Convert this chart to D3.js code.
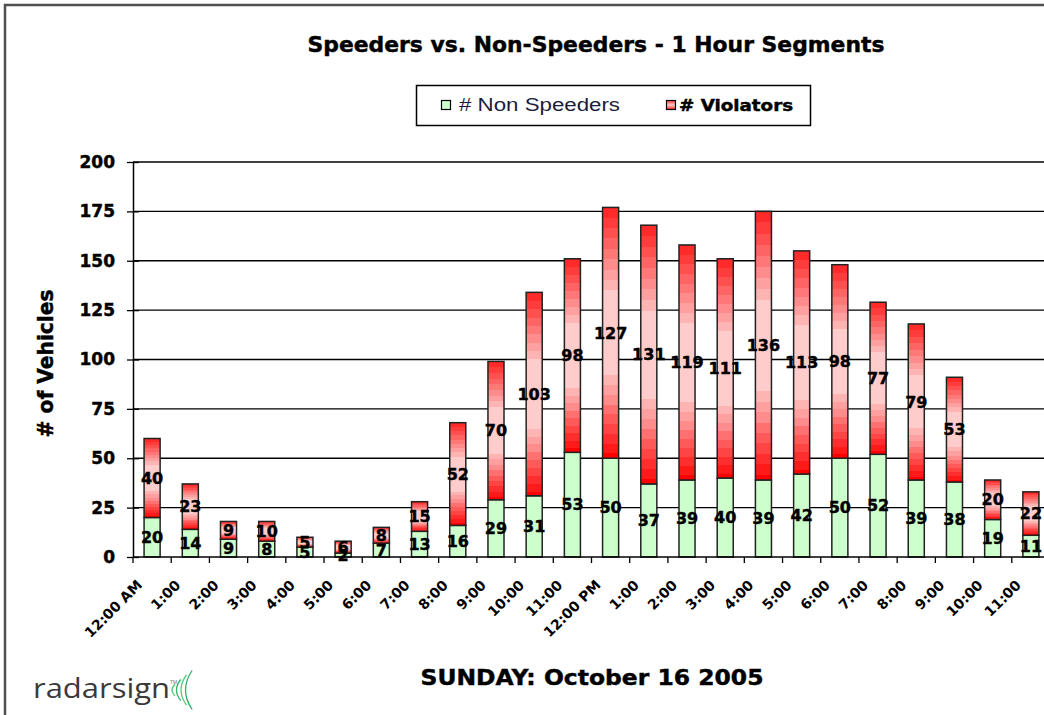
<!DOCTYPE html>
<html>
<head>
<meta charset="utf-8">
<script src="https://cdn.jsdelivr.net/npm/d3@7/dist/d3.min.js"></script>
<style>
  html, body { margin: 0; padding: 0; background: #fff; overflow: hidden; }
  svg { display: block; }
</style>
</head>
<body>
<svg id="chart" width="1044" height="715"></svg>
<script>
// ---- data ----
const hours = ["12:00 AM","1:00","2:00","3:00","4:00","5:00","6:00","7:00","8:00","9:00","10:00","11:00",
               "12:00 PM","1:00","2:00","3:00","4:00","5:00","6:00","7:00","8:00","9:00","10:00","11:00"];
const nonSpeeders = [20,14,9,8,5,2,7,13,16,29,31,53,50,37,39,40,39,42,50,52,39,38,19,11];
const violators   = [40,23,9,10,5,6,8,15,52,70,103,98,127,131,119,111,136,113,98,77,79,53,20,22];
const yTicks = [0,25,50,75,100,125,150,175,200];

const title = "Speeders vs. Non-Speeders - 1 Hour Segments";
const xTitle = "SUNDAY: October 16 2005";
const yTitle = "# of Vehicles";
const seriesNames = ["# Non Speeders", "# Violators"];

// ---- layout ----
const svg = d3.select("#chart");
const plot = { left: 133, right: 1050, top: 162, bottom: 557 };
const BOLD = "'DejaVu Sans', Verdana, sans-serif";
const heavy = sel => sel.attr("stroke","#000").attr("stroke-width",0.45).attr("paint-order","stroke");

// frame
svg.append("rect").attr("x",5).attr("y",5).attr("width",1200).attr("height",900)
  .attr("fill","#fff").attr("stroke","#505050").attr("stroke-width",2.5);

// gradient for violators (banded)
const defs = svg.append("defs");
const grad = defs.append("linearGradient").attr("id","redGrad")
  .attr("x1",0).attr("y1",0).attr("x2",0).attr("y2",1);
const topBands = ["#ff2a2a","#ff3c3c","#ff5050","#ff6464","#ff7878","#ff8c8c","#ffa0a0","#ffb4b4"];
const botBands = ["#ffb4b4","#ffa0a0","#ff8c8c","#ff7070","#ff5a5a","#ff4444","#ff2e2e","#ff1a1a"];
const bandH = 0.33 / topBands.length;
topBands.forEach((c,i) => {
  grad.append("stop").attr("offset", i*bandH).attr("stop-color", c);
  grad.append("stop").attr("offset", (i+1)*bandH).attr("stop-color", c);
});
grad.append("stop").attr("offset", 0.33).attr("stop-color", "#ffcccc");
grad.append("stop").attr("offset", 0.67).attr("stop-color", "#ffcccc");
const bandB = 0.31 / botBands.length;
botBands.forEach((c,i) => {
  grad.append("stop").attr("offset", 0.67 + i*bandB).attr("stop-color", c);
  grad.append("stop").attr("offset", 0.67 + (i+1)*bandB).attr("stop-color", c);
});
grad.append("stop").attr("offset", 0.98).attr("stop-color", "#ff0000");
grad.append("stop").attr("offset", 1).attr("stop-color", "#ff0000");

const legGrad = defs.append("linearGradient").attr("id","legGrad")
  .attr("x1",0).attr("y1",0).attr("x2",0).attr("y2",1);
legGrad.append("stop").attr("offset",0).attr("stop-color","#ff3030");
legGrad.append("stop").attr("offset",0.5).attr("stop-color","#ffcccc");
legGrad.append("stop").attr("offset",1).attr("stop-color","#ff2020");

// scales
const idx = hours.map((d,i) => i);
const x = d3.scaleBand().domain(idx).range([plot.left, plot.right])
  .paddingInner(0.58).paddingOuter(0.29);
const step = x.step();
const y = d3.scaleLinear().domain([0,200]).range([plot.bottom, plot.top]);

// gridlines
svg.append("g").selectAll("line").data(yTicks.filter(d => d > 0)).join("line")
  .attr("x1", plot.left).attr("x2", plot.right + 10)
  .attr("y1", d => y(d)).attr("y2", d => y(d))
  .attr("stroke","#000").attr("stroke-width",1.3);

// bars
const gBars = svg.append("g");
idx.forEach(i => {
  const ns = nonSpeeders[i], v = violators[i];
  gBars.append("rect")
    .attr("x", x(i)).attr("width", x.bandwidth())
    .attr("y", y(ns)).attr("height", y(0) - y(ns))
    .attr("fill","#ccffcc").attr("stroke","#222").attr("stroke-width",1.5);
  gBars.append("rect")
    .attr("x", x(i)).attr("width", x.bandwidth())
    .attr("y", y(ns + v)).attr("height", y(ns) - y(ns + v))
    .attr("fill","url(#redGrad)").attr("stroke","#222").attr("stroke-width",1.5);
});

// axes
const yAxis = d3.axisLeft(y).tickValues(yTicks).tickSize(0).tickPadding(18);
const gy = svg.append("g").attr("transform", `translate(${plot.left},0)`).call(yAxis);
gy.select(".domain").attr("stroke","#000").attr("stroke-width",1.5);
gy.selectAll(".tick text").attr("font-family", BOLD).attr("font-weight","bold")
  .attr("font-size","17px").attr("fill","#000").attr("x",-18).call(heavy);
gy.selectAll(".tick").append("line").attr("x1",-6).attr("x2",6)
  .attr("stroke","#000").attr("stroke-width",1.3);

svg.append("line").attr("x1",plot.left).attr("x2",plot.right+10)
  .attr("y1",y(0)).attr("y2",y(0)).attr("stroke","#000").attr("stroke-width",1.5);
svg.append("g").selectAll("line").data(d3.range(idx.length + 1)).join("line")
  .attr("x1", k => plot.left + k*step).attr("x2", k => plot.left + k*step)
  .attr("y1", y(0)).attr("y2", y(0) + 6)
  .attr("stroke","#000").attr("stroke-width",1.3);

// x labels
svg.append("g").selectAll("text").data(idx).join("text")
  .attr("transform", i => `translate(${x(i) + x.bandwidth()/2 - 9},${y(0) + 29}) rotate(-45)`)
  .attr("text-anchor","end")
  .attr("font-family", BOLD).attr("font-weight","bold").attr("font-size","14px")
  .attr("fill","#000")
  .text(i => hours[i]);

// value labels
const gLab = svg.append("g").attr("font-family", BOLD).attr("font-weight","bold")
  .attr("font-size","16px").attr("fill","#000").attr("text-anchor","middle").call(heavy);
idx.forEach(i => {
  const ns = nonSpeeders[i], v = violators[i];
  const cx = x(i) + x.bandwidth()/2;
  gLab.append("text").attr("x", cx).attr("y", y(ns/2)).attr("dy","0.36em").text(ns);
  gLab.append("text").attr("x", cx).attr("y", y(ns + v/2)).attr("dy","0.36em").text(v);
});

// titles
svg.append("text").attr("x",596).attr("y",52).attr("text-anchor","middle")
  .attr("font-family",BOLD).attr("font-weight","bold").attr("font-size","22px")
  .attr("textLength",577).attr("lengthAdjust","spacingAndGlyphs").call(heavy).text(title);
svg.append("text").attr("x",592).attr("y",685).attr("text-anchor","middle")
  .attr("font-family",BOLD).attr("font-weight","bold").attr("font-size","22px")
  .attr("textLength",343).attr("lengthAdjust","spacingAndGlyphs").call(heavy).text(xTitle);
svg.append("text").attr("transform",`translate(53,${(plot.top+plot.bottom)/2 + 4}) rotate(-90)`)
  .attr("text-anchor","middle")
  .attr("font-family",BOLD).attr("font-weight","bold").attr("font-size","21px")
  .attr("textLength",148).attr("lengthAdjust","spacingAndGlyphs").call(heavy).text(yTitle);

// legend
const leg = svg.append("g");
leg.append("rect").attr("x",416.5).attr("y",85.5).attr("width",394).attr("height",40)
  .attr("fill","#fff").attr("stroke","#000").attr("stroke-width",1.5);
leg.append("rect").attr("x",441.5).attr("y",100.5).attr("width",9).attr("height",9)
  .attr("fill","#ccffcc").attr("stroke","#000").attr("stroke-width",1.2);
leg.append("text").attr("x",459).attr("y",111).attr("font-family","'Liberation Sans', Arial, sans-serif")
  .attr("font-size","18px").attr("fill","#1c1c3c")
  .attr("textLength",161).attr("lengthAdjust","spacingAndGlyphs").text(seriesNames[0]);
leg.append("rect").attr("x",666.5).attr("y",100.5).attr("width",9).attr("height",9)
  .attr("fill","url(#legGrad)").attr("stroke","#000").attr("stroke-width",1.2);
leg.append("text").attr("x",679).attr("y",111).attr("font-family",BOLD).attr("font-weight","bold")
  .attr("font-size","16px").attr("fill","#000")
  .attr("textLength",114).attr("lengthAdjust","spacingAndGlyphs").call(heavy).text(seriesNames[1]);

// logo
const logo = svg.append("g");
logo.append("text").attr("x",33).attr("y",698)
  .attr("font-family","'Open Sans', 'Liberation Sans', sans-serif").attr("font-size","27px")
  .attr("fill","#3a3a3a").attr("textLength",137).attr("lengthAdjust","spacingAndGlyphs")
  .text("radarsign");
logo.append("text").attr("x",170).attr("y",684)
  .attr("font-family","'Liberation Sans', sans-serif").attr("font-size","5px").attr("fill","#777").text("TM");
[0,1,2,3].forEach(k => {
  const xl = 172 + k*4.5, h = 6 + k*4.5, w = 3 + k*1.2, cy = 690;
  logo.append("path")
    .attr("d", `M${xl + w},${cy - h} Q${xl - w},${cy} ${xl + w},${cy + h}`)
    .attr("fill","none").attr("stroke", k % 2 ? "#2db36a" : "#55cc77").attr("stroke-width",1.3);
});
</script>
</body>
</html>
